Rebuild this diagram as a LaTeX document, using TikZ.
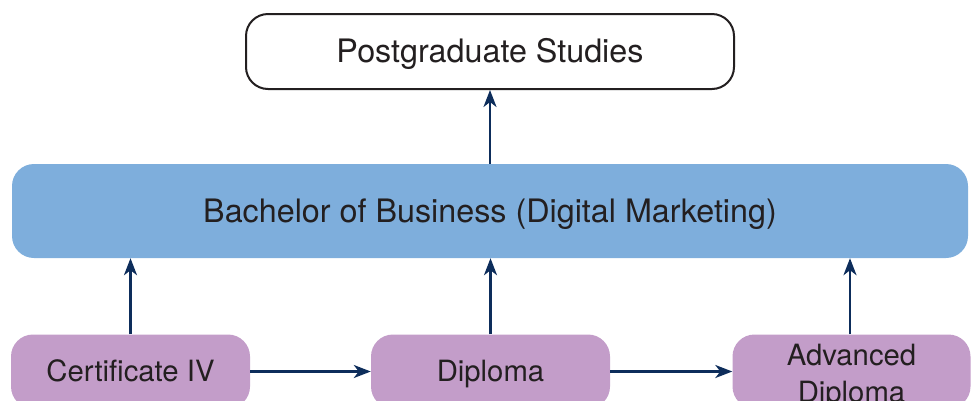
\documentclass[tikz,border=0pt]{standalone}
\usepackage{fontspec}
\setmainfont{TeX Gyre Heros}
\usetikzlibrary{arrows.meta}
\definecolor{bachblue}{HTML}{7EAEDC}
\definecolor{vetpurple}{HTML}{C39DC9}
\definecolor{inkgray}{HTML}{231F20}
\definecolor{navy}{HTML}{0D2D5B}
\begin{document}
\begin{tikzpicture}[x=1pt,y=-1pt,
  box/.style={rectangle, rounded corners=22pt, inner sep=0pt, text=inkgray,
    text depth=0pt},
  topbox/.style={box, draw=inkgray, line width=2pt, fill=white,
    text height=22.9pt, font=\fontsize{32.3}{36}\selectfont},
  degbox/.style={box, fill=bachblue, text height=22.9pt,
    font=\fontsize{32.3}{36}\selectfont},
  vetbox/.style={box, fill=vetpurple, text height=20.8pt,
    font=\fontsize{29.3}{37}\selectfont},
  flow/.style={draw=navy, line width=2.5pt,
    -{Stealth[length=17pt,width=13pt,inset=5pt]}}]
\useasboundingbox (0,0) rectangle (977,400);
\clip (0,0) rectangle (977,400);

% top level: postgraduate study
\node[topbox, minimum width=488pt, minimum height=75pt] (pg) at (490,51.5) {Postgraduate Studies};

% bachelor degree
\node[degbox, minimum width=956pt, minimum height=94pt] (bach) at (490,211) {Bachelor of Business (Digital Marketing)};

% vocational entry points (run past the bottom edge)
\node[vetbox, minimum width=239pt, minimum height=74pt] (cert) at (130.5,371.5) {Certificate IV};
\node[vetbox, minimum width=239pt, minimum height=74pt] (dip) at (490.5,371.5) {Diploma};
\node[vetbox, minimum width=238pt, minimum height=74pt] (adv) at (851.5,371.5) {};
\node[text=inkgray, align=center, font=\fontsize{29.3}{37}\selectfont, inner sep=0pt,
  anchor=base] (advtxt) at (851.5,402) {Advanced\\Diploma};

% pathways
\draw[flow] (bach.north) -- (pg.south);
\draw[flow] (cert.north) -- (cert.north |- bach.south);
\draw[flow] (dip.north) -- (dip.north |- bach.south);
\draw[flow] ([xshift=-1.5pt]adv.north) -- ([xshift=-1.5pt]adv.north |- bach.south);
\draw[flow] (cert.east) -- (dip.west);
\draw[flow] (dip.east) -- (adv.west);
\end{tikzpicture}
\end{document}
